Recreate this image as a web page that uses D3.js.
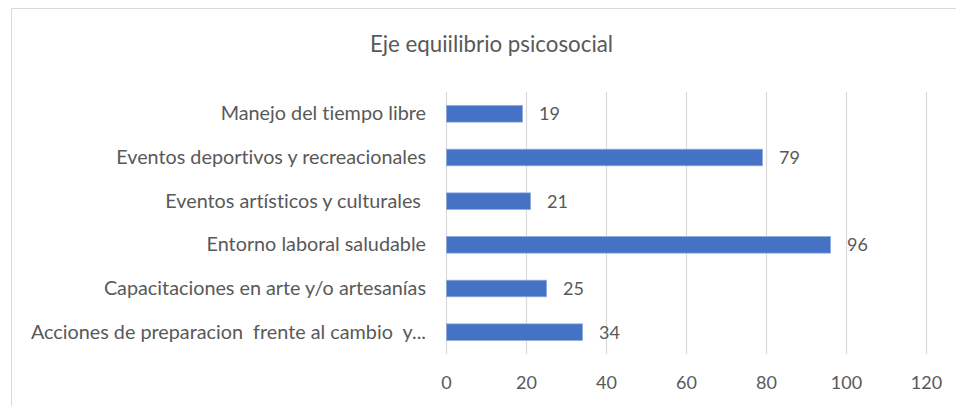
<!DOCTYPE html>
<html>
<head>
<meta charset="utf-8">
<script src="https://cdn.jsdelivr.net/npm/d3@7"></script>
<style>
  body { margin: 0; background: #fff; }
  svg text { font-family: Lato, "Liberation Sans", sans-serif; fill: #595959; white-space: pre; font-variant-ligatures: none; }
</style>
</head>
<body>
<div id="chart"></div>
<script>
// datos del grafico
const categories = [
  'Manejo del tiempo libre',
  'Eventos deportivos y recreacionales',
  'Eventos artísticos y culturales ',
  'Entorno laboral saludable',
  'Capacitaciones en arte y/o artesanías',
  'Acciones de preparacion  frente al cambio  y...'
];
const values = [19, 79, 21, 96, 25, 34];
const xTicks = [0, 20, 40, 60, 80, 100, 120];
const chartTitle = 'Eje equiilibrio psicosocial';

const width = 956, height = 406;
const plot = { left: 446, right: 926, top: 92, bottom: 354 };

const svg = d3.select('#chart').append('svg')
  .attr('width', width)
  .attr('height', height);

// borde del area del grafico
svg.append('rect')
  .attr('x', 11.5).attr('y', 8.5)
  .attr('width', 960).attr('height', 420)
  .attr('fill', 'none')
  .attr('stroke', '#d9d9d9');

const x = d3.scaleLinear().domain([0, 120]).range([plot.left, plot.right]);
const y = d3.scaleBand().domain(categories).range([plot.top, plot.bottom]).paddingInner(0.62).paddingOuter(0.31);

// lineas de cuadricula
svg.append('g')
  .selectAll('line')
  .data(xTicks)
  .enter()
  .append('line')
  .attr('x1', d => Math.round(x(d)) + 0.5)
  .attr('x2', d => Math.round(x(d)) + 0.5)
  .attr('y1', plot.top)
  .attr('y2', plot.bottom)
  .attr('stroke', '#d9d9d9')
  .attr('stroke-width', 1.2);

// eje x (solo etiquetas)
const xAxis = svg.append('g')
  .attr('transform', `translate(0, ${plot.bottom})`)
  .call(d3.axisBottom(x).tickValues(xTicks).tickSize(0).tickPadding(22));
xAxis.select('.domain').remove();
xAxis.selectAll('text')
  .style('font-family', 'Lato, "Liberation Sans", sans-serif')
  .style('font-size', '18px')
  .attr('fill', '#595959');

// etiquetas de categoria
const yAxis = svg.append('g')
  .attr('transform', `translate(${plot.left}, 0)`)
  .call(d3.axisLeft(y).tickSize(0).tickPadding(20));
yAxis.select('.domain').remove();
yAxis.selectAll('text')
  .style('font-family', 'Lato, "Liberation Sans", sans-serif')
  .style('font-size', '19.8px')
  .style('white-space', 'pre')
  .attr('fill', '#595959');

// barras
svg.append('g')
  .selectAll('rect')
  .data(values)
  .enter()
  .append('rect')
  .attr('x', x(0) + 0.5)
  .attr('y', (d, i) => y(categories[i]))
  .attr('width', d => x(d) - x(0))
  .attr('height', y.bandwidth())
  .attr('fill', '#4472c4')
  .attr('stroke', '#8faadc')
  .attr('stroke-width', 0.75);

// etiquetas de valor
svg.append('g')
  .selectAll('text')
  .data(values)
  .enter()
  .append('text')
  .attr('x', d => x(d) + 17)
  .attr('y', (d, i) => y(categories[i]) + y.bandwidth() / 2)
  .attr('dy', '0.36em')
  .style('font-size', '18px')
  .text(d => d);

// titulo
svg.append('text')
  .attr('x', 491.5)
  .attr('y', 52)
  .attr('text-anchor', 'middle')
  .style('font-size', '22.3px')
  .text(chartTitle);
</script>
</body>
</html>
